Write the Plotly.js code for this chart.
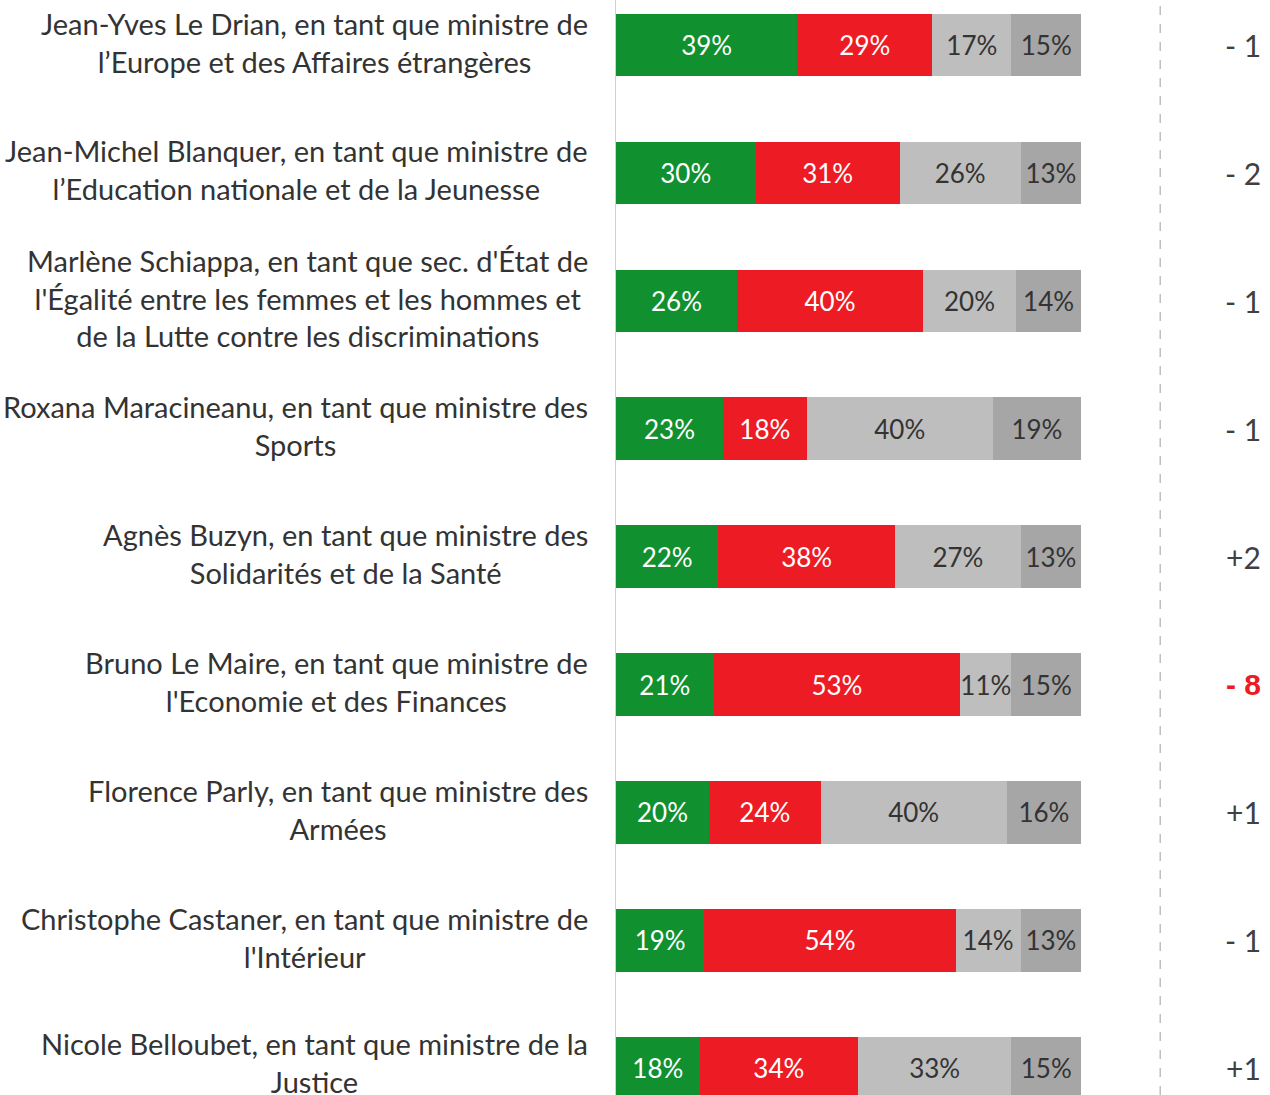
<!DOCTYPE html>
<html>
<head>
<meta charset="utf-8">
<script src="https://cdn.plot.ly/plotly-3.0.1.min.js"></script>
<style>html,body{margin:0;padding:0;background:#fff;}#chart{width:1270px;height:1095px;}</style>
</head>
<body>
<div id="chart"></div>
<script>
const labels = [
  "Jean-Yves Le Drian, en tant que ministre de<br>l’Europe et des Affaires étrangères",
  "Jean-Michel Blanquer, en tant que ministre de<br>l’Education nationale et de la Jeunesse",
  "Marlène Schiappa, en tant que sec. d'État de<br>l'Égalité entre les femmes et les hommes et<br>de la Lutte contre les discriminations",
  "Roxana Maracineanu, en tant que ministre des<br>Sports",
  "Agnès Buzyn, en tant que ministre des<br>Solidarités et de la Santé",
  "Bruno Le Maire, en tant que ministre de<br>l'Economie et des Finances",
  "Florence Parly, en tant que ministre des<br>Armées",
  "Christophe Castaner, en tant que ministre de<br>l'Intérieur",
  "Nicole Belloubet, en tant que ministre de la<br>Justice"
];
const cats = ["Le Drian","Blanquer","Schiappa","Maracineanu","Buzyn","Le Maire","Parly","Castaner","Belloubet"];
const satisfaits = [39, 30, 26, 23, 22, 21, 20, 19, 18];
const mecontents = [29, 31, 40, 18, 38, 53, 24, 54, 34];
const neutres   = [17, 26, 20, 40, 27, 11, 40, 14, 33];
const nsp       = [15, 13, 14, 19, 13, 15, 16, 13, 15];
const evolution = ["- 1", "- 2", "- 1", "- 1", "+2", "- 8", "+1", "- 1", "+1"];
const evolutionColor = ["#404040","#404040","#404040","#404040","#404040","#ED1C24","#404040","#404040","#404040"];

const FONT = "Lato, 'Noto Sans', sans-serif";
function seg(vals, color, txtColor, name) {
  return {
    type: 'bar', orientation: 'h', name: name,
    y: cats, x: vals,
    marker: {color: color, line: {width: 0}},
    width: 0.49,
    text: vals.map(v => v + '%'),
    textposition: 'inside', insidetextanchor: 'middle',
    textangle: 0,
    constraintext: 'none',
    textfont: {family: FONT, size: 26, color: txtColor},
    hoverinfo: 'skip'
  };
}
const data = [
  seg(satisfaits, '#11902F', '#ffffff', 'Satisfaits'),
  seg(mecontents, '#ED1C24', '#ffffff', 'Mécontents'),
  seg(neutres, '#BEBEBE', '#333333', 'Ni l’un ni l’autre'),
  seg(nsp, '#A6A6A6', '#333333', 'NSP')
];

const annotations = [];
cats.forEach((c, i) => {
  annotations.push({
    xref: 'paper', yref: 'y', x: -0.0395, y: c,
    xanchor: 'right', yanchor: 'middle', align: 'center',
    yshift: i === cats.length - 1 ? 6 : 3,
    text: labels[i], showarrow: false,
    font: {family: FONT, size: 29, color: '#333333'}
  });
  annotations.push({
    xref: 'x', yref: 'y', x: 139.2, y: c,
    xanchor: 'right', yanchor: 'middle', align: 'right',
    text: i === 5 ? '<b>' + evolution[i] + '</b>' : evolution[i], showarrow: false,
    font: {family: i === 5 ? "'Liberation Sans', Arial, sans-serif" : FONT, size: 30, color: evolutionColor[i]}
  });
});

const layout = {
  width: 1270, height: 1095,
  margin: {l: 616, r: 0, t: 0, b: 0, pad: 0},
  paper_bgcolor: '#ffffff', plot_bgcolor: '#ffffff',
  barmode: 'stack', showlegend: false,
  xaxis: {range: [0, 140.6], visible: false, showgrid: false, zeroline: false},
  yaxis: {
    type: 'category', categoryorder: 'array', categoryarray: cats,
    range: [8.209, -0.352], showticklabels: false, showgrid: false, zeroline: false,
    showline: true, linecolor: '#D0D0D0', linewidth: 1.5, ticks: ''
  },
  shapes: [{
    type: 'line', xref: 'x', yref: 'paper', x0: 117, x1: 117, y0: 0, y1: 1,
    line: {color: '#BFBFBF', width: 1.5, dash: 'dash'}
  }],
  annotations: annotations
};
Plotly.newPlot('chart', data, layout, {displayModeBar: false, staticPlot: true});
</script>
</body>
</html>
